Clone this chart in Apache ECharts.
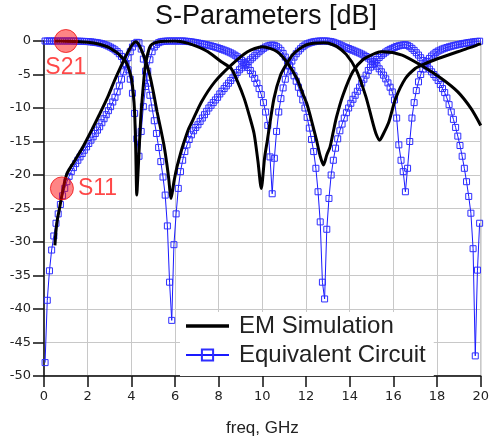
<!DOCTYPE html>
<html><head><meta charset="utf-8">
<script src="https://cdn.jsdelivr.net/npm/echarts@6/dist/echarts.min.js"></script>
<style>html,body{margin:0;padding:0;background:#fff}#c{width:492px;height:446px}</style>
</head><body><div id="c"></div>
<script>
// ---- Axis ticks ----
const xTicks = [0, 2, 4, 6, 8, 10, 12, 14, 16, 18, 20];
const yTicks = [-50, -45, -40, -35, -30, -25, -20, -15, -10, -5, 0];

// ---- EM Simulation (black) ----
const emS21Freq = [0.5,1,1.5,2,2.5,2.8,3.0,3.23,3.4,3.55,3.68,3.8,3.9,4.0,4.05,4.12,4.16,4.2,4.25,4.3,4.36,4.43,4.5,4.55,4.6,4.66,4.75,4.88,5.1,5.5,6.0,6.61,7.0,7.51,8.12,8.57,8.87,9.17,9.4,9.62,9.8,9.95,10.1,10.23,10.53,10.83,11.13,11.4,11.73,12.0,12.33,12.8,13.0,13.4,13.84,14.3,14.74,15.04,15.2,15.37,15.55,15.8,16.1,16.55,17.0,17.3,17.9,18.95,19.5,20];
const emS21 = [0,-0.03,-0.08,-0.2,-0.45,-0.75,-1.0,-1.5,-1.9,-2.4,-2.8,-3.4,-4.3,-5.5,-6.6,-9,-11.5,-16,-23,-20,-16,-11.5,-8.5,-6.6,-4.8,-3.3,-1.9,-0.7,-0.25,-0.05,0,-0.35,-0.8,-1.6,-3.1,-4.1,-6.1,-8.6,-11.1,-13.8,-18,-22,-17.5,-14.8,-8.6,-5.1,-3.3,-2.0,-1.1,-0.6,-0.35,-0.25,-0.3,-0.8,-2.0,-4.3,-8.3,-12,-13.8,-14.8,-13.8,-12.0,-8.6,-5.6,-4.1,-3.6,-2.8,-1.6,-1.0,-0.4];

const emS11Freq = [0.5,0.55,0.62,0.71,0.85,1.05,1.4,1.8,2.2,2.55,2.9,3.23,3.45,3.68,3.9,4.05,4.2,4.35,4.58,4.75,4.88,5.03,5.18,5.35,5.49,5.62,5.71,5.82,5.95,6.09,6.25,6.39,6.61,6.76,7.21,7.82,8.57,9.32,10.0,10.68,11.13,11.58,11.88,12.03,12.18,12.48,12.65,12.8,12.95,13.1,13.25,13.4,13.69,14.14,14.6,15.19,15.5,16.4,17.3,18.2,18.95,19.56,20];
const emS11 = [-30.5,-28.3,-26.5,-25,-22.5,-19.8,-17.9,-15.7,-13.2,-10.9,-8.5,-5.9,-4.3,-2.7,-1.3,-0.5,-0.1,-0.6,-2.3,-4.0,-5.6,-8,-10.6,-13.2,-15.5,-18.2,-20.5,-23.5,-21,-18.8,-16.8,-15.3,-13.2,-12.2,-9.1,-6.1,-3.6,-1.6,-0.85,-1.6,-3.2,-5.6,-8.1,-9.3,-11,-14.8,-17.2,-18.5,-17,-15.8,-13.5,-11.3,-8.1,-4.6,-2.8,-1.8,-1.6,-2.1,-3.7,-5.6,-7.6,-10.1,-12.6];

// ---- Equivalent Circuit (blue), sweep 0.05 .. 19.95 GHz, step 0.1 ----
const ecFreqStart = 0.05, ecFreqStep = 0.1, ecPoints = 200;
const ecS21 = [
 0,0,0,0,0,0,0,0,0,0,
 0,0,0,0,-0.02,-0.03,-0.04,-0.05,-0.06,-0.08,
 -0.1,-0.13,-0.17,-0.21,-0.26,-0.32,-0.4,-0.5,-0.62,-0.76,
 -0.92,-1.1,-1.32,-1.58,-1.9,-2.3,-2.8,-3.4,-4.3,-5.7,
 -7.8,-10.8,-14.6,-17.2,-13.5,-9.8,-6.8,-4.5,-2.8,-1.6,
 -0.9,-0.5,-0.25,-0.12,-0.06,-0.03,-0.01,0,0,0,
 0,0,0,0,-0.02,-0.05,-0.09,-0.13,-0.18,-0.24,
 -0.3,-0.36,-0.43,-0.5,-0.57,-0.65,-0.73,-0.82,-0.92,-1.02,
 -1.13,-1.24,-1.36,-1.48,-1.62,-1.77,-1.94,-2.13,-2.35,-2.6,
 -2.88,-3.2,-3.55,-3.95,-4.4,-4.95,-5.6,-6.3,-7.1,-8.0,
 -9.2,-10.6,-12.6,-17.3,-22.8,-17.5,-13.5,-10.6,-8.6,-7.0,
 -5.7,-4.6,-3.7,-3.0,-2.4,-1.9,-1.5,-1.15,-0.85,-0.6,
 -0.42,-0.3,-0.2,-0.12,-0.06,-0.02,0,0,0,0,
 -0.05,-0.1,-0.18,-0.3,-0.43,-0.57,-0.72,-0.87,-1.0,-1.12,
 -1.25,-1.38,-1.52,-1.66,-1.8,-1.95,-2.12,-2.32,-2.55,-2.8,
 -3.1,-3.4,-3.75,-4.15,-4.6,-5.1,-5.65,-6.25,-6.9,-7.6,
 -8.8,-11.5,-15.5,-17.8,-19.5,-22.5,-19,-15,-11.5,-9.2,
 -7.4,-6.1,-5.0,-4.2,-3.6,-3.05,-2.6,-2.25,-1.95,-1.7,
 -1.5,-1.35,-1.2,-1.08,-0.97,-0.87,-0.78,-0.7,-0.62,-0.55,
 -0.48,-0.41,-0.35,-0.29,-0.24,-0.19,-0.14,-0.1,-0.06,-0.03
];
const ecS11 = [
 -48,-38.7,-34.3,-31.2,-29.1,-27.2,-25.8,-24.4,-23.1,-22.0,
 -21.0,-20.2,-19.5,-18.9,-18.3,-17.8,-17.3,-16.8,-16.3,-15.8,
 -15.3,-14.8,-14.3,-13.8,-13.3,-12.8,-12.2,-11.6,-11.0,-10.4,
 -9.8,-9.1,-8.4,-7.6,-6.7,-5.7,-4.6,-3.5,-2.5,-1.6,
 -0.9,-0.4,-0.2,-0.25,-1.2,-2.7,-4.5,-6.3,-8.1,-10.0,
 -11.9,-13.8,-15.9,-18.0,-20.3,-23.0,-27.6,-36,-41.7,-30.4,
 -25.8,-22.0,-19.5,-17.8,-16.5,-15.5,-14.7,-14.0,-13.4,-12.9,
 -12.5,-12.0,-11.5,-11.0,-10.5,-10.0,-9.6,-9.2,-8.8,-8.4,
 -7.9,-7.5,-7.1,-6.7,-6.3,-5.9,-5.5,-5.1,-4.7,-4.3,
 -4.0,-3.7,-3.4,-3.1,-2.8,-2.5,-2.2,-1.9,-1.6,-1.35,
 -1.1,-0.9,-0.75,-0.65,-0.6,-0.65,-0.8,-1.05,-1.4,-1.85,
 -2.4,-3.0,-3.7,-4.4,-5.2,-6.0,-6.9,-7.8,-8.8,-10.0,
 -11.4,-13.0,-14.7,-16.5,-19.0,-22.5,-27.0,-36,-38.5,-28.1,
 -23.5,-20.0,-17.8,-16.0,-14.6,-13.4,-12.4,-11.5,-10.7,-10.0,
 -9.3,-8.7,-8.1,-7.5,-6.9,-6.3,-5.7,-5.1,-4.4,-3.9,
 -3.5,-3.1,-2.75,-2.45,-2.15,-1.9,-1.65,-1.45,-1.25,-1.1,
 -0.95,-0.82,-0.72,-0.64,-0.58,-0.55,-0.65,-0.85,-1.1,-1.4,
 -1.75,-2.1,-2.5,-2.9,-3.3,-3.75,-4.2,-4.6,-5.0,-5.4,
 -5.9,-6.5,-7.1,-7.7,-8.5,-9.5,-10.6,-11.7,-12.9,-14.2,
 -15.6,-17.2,-19.0,-21.0,-23.2,-25.7,-31,-47,-34.2,-27.2
];

// ---- Markers ----
const markerNames = ['S21', 'S11'];
const markerFreq = [1.0, 0.82];
const markerValue = [0, -22];

// ---- build ----
const ecFreq = [];
for (let i = 0; i < ecPoints; i++) ecFreq.push(+(ecFreqStart + ecFreqStep * i).toFixed(2));
const zip = (xs, ys) => xs.map((x, i) => [x, ys[i]]);

const BLUE_LINE = '#1a1aff', BLUE_MARK = '#2e2eff';
const blueSeries = (data) => ({
  type: 'line', name: 'Equivalent Circuit', data,
  symbol: 'rect', symbolSize: 6, showSymbol: true, showAllSymbol: true,
  itemStyle: { color: 'rgba(255,255,255,0)', borderColor: BLUE_MARK, borderWidth: 1 },
  lineStyle: { color: BLUE_LINE, width: 1 },
  z: 2, animation: false
});
const blackSeries = (data) => ({
  type: 'line', name: 'EM Simulation', data,
  symbol: 'none', smooth: 0.25,
  itemStyle: { color: '#000' },
  lineStyle: { color: '#000', width: 3 },
  z: 3, animation: false
});

const chart = echarts.init(document.getElementById('c'), null, { renderer: 'canvas' });
chart.setOption({
  backgroundColor: '#fff',
  animation: false,
  title: {
    text: 'S-Parameters [dB]', left: 150, top: -2,
    textStyle: { fontFamily: 'Liberation Sans', fontSize: 27, fontWeight: 'normal', color: '#111' }
  },
  grid: { left: 44, right: 5, top: 41, bottom: 70, show: true, borderColor: '#666', borderWidth: 1, containLabel: false },
  xAxis: {
    type: 'value', min: xTicks[0], max: xTicks[xTicks.length - 1], interval: xTicks[1] - xTicks[0],
    name: 'freq, GHz', nameLocation: 'middle', nameGap: 44,
    nameTextStyle: { fontFamily: 'Liberation Sans', fontSize: 17, color: '#222' },
    axisLine: { show: true, onZero: false, lineStyle: { color: '#111', width: 1.5 } },
    axisTick: { show: true, length: 11, lineStyle: { color: '#111', width: 1.5 } },
    axisLabel: { fontFamily: 'DejaVu Sans', fontSize: 13, color: '#222', margin: 14 },
    splitLine: { show: true, lineStyle: { color: '#c8c8c8', width: 1 } }
  },
  yAxis: {
    type: 'value', min: yTicks[0], max: yTicks[yTicks.length - 1], interval: yTicks[1] - yTicks[0],
    axisLine: { show: true, onZero: false, lineStyle: { color: '#111', width: 1.5 } },
    axisTick: { show: true, length: 11, lineStyle: { color: '#111', width: 1.5 } },
    axisLabel: { fontFamily: 'DejaVu Sans', fontSize: 13, color: '#222', margin: 13 },
    splitLine: { show: true, lineStyle: { color: '#c8c8c8', width: 1 } }
  },
  legend: {
    data: [
      { name: 'EM Simulation', icon: 'path://M0 0H43V3.5H0Z', itemStyle: { color: '#000', borderWidth: 0 } },
      { name: 'Equivalent Circuit' }
    ],
    orient: 'vertical',
    left: 180, top: 312, backgroundColor: '#fff', padding: [2, 8, 9, 5],
    itemGap: 5, itemWidth: 43, itemHeight: 14, selectedMode: false,
    textStyle: { fontFamily: 'Liberation Sans', fontSize: 24, color: '#222', padding: [0, 0, 0, 5] }
  },
  series: [
    blueSeries(zip(ecFreq, ecS21)),
    blueSeries(zip(ecFreq, ecS11)),
    blackSeries(zip(emS21Freq, emS21)),
    blackSeries(zip(emS11Freq, emS11)),
    {
      type: 'scatter', name: 'Markers', clip: false, z: 5, animation: false,
      symbol: 'circle', symbolSize: 23,
      itemStyle: { color: 'rgba(255,0,0,0.6)', borderColor: 'rgba(235,0,0,0.9)', borderWidth: 1 },
      label: { show: true, color: '#ff1a1a', fontFamily: 'Liberation Sans', fontSize: 23, formatter: p => p.name },
      data: markerNames.map((n, i) => ({
        name: n, value: [markerFreq[i], markerValue[i]],
        label: i === 0 ? { position: 'bottom', distance: 3 } : { position: 'right', distance: 4 }
      }))
    }
  ]
});
</script></body></html>
